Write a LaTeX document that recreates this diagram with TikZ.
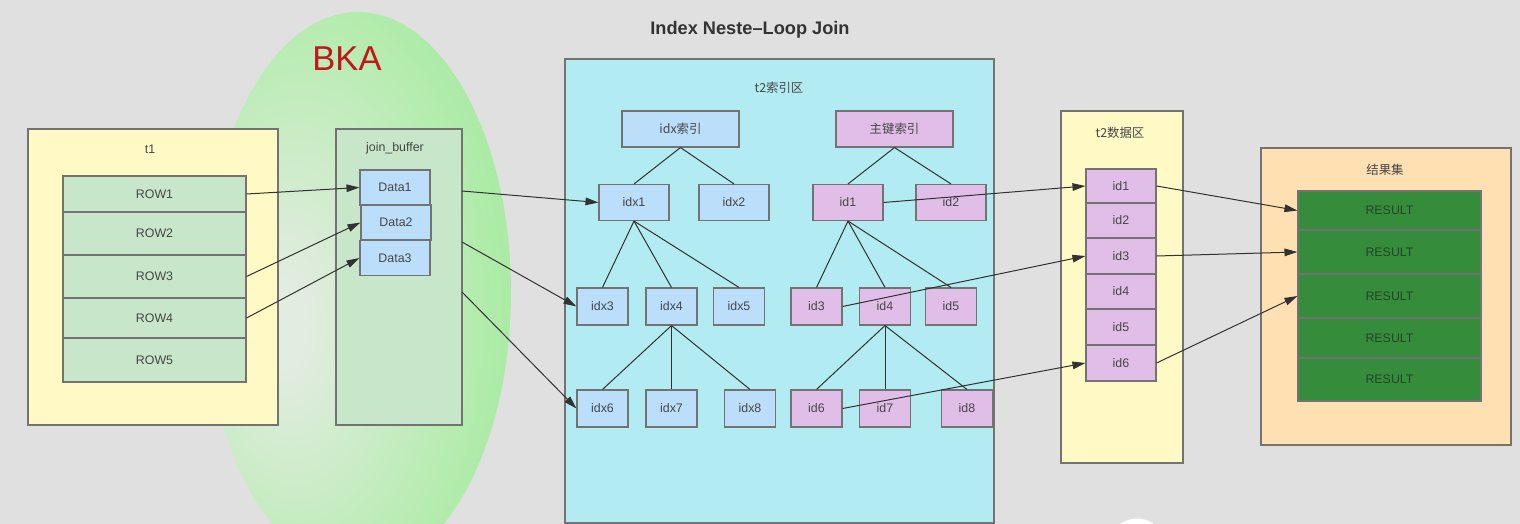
\documentclass[tikz,border=0pt]{standalone}
\usepackage{fontspec}
\setmainfont{Liberation Sans}
\newfontfamily\cjk{Noto Sans CJK SC}
\usetikzlibrary{arrows.meta}
\definecolor{bgc}{RGB}{224,224,224}
\definecolor{yel}{RGB}{255,249,198}
\definecolor{grn}{RGB}{200,230,201}
\definecolor{blu}{RGB}{187,222,251}
\definecolor{cya}{RGB}{178,235,242}
\definecolor{pur}{RGB}{225,190,231}
\definecolor{pea}{RGB}{255,224,178}
\definecolor{dgr}{RGB}{53,140,58}
\definecolor{bordc}{RGB}{115,115,115}
\definecolor{linec}{RGB}{50,50,50}
\definecolor{txt}{RGB}{70,70,70}
\definecolor{restxt}{RGB}{35,70,38}
\definecolor{bkared}{RGB}{192,22,28}
\definecolor{bkain}{RGB}{226,236,224}
\definecolor{bkamid}{RGB}{182,236,176}
\definecolor{bkaout}{RGB}{150,232,145}
\pgfdeclareradialshading{bkashade}{\pgfpoint{-13bp}{-3bp}}{color(0bp)=(bkain); color(4bp)=(bkain); color(26bp)=(bkamid); color(42bp)=(bkaout); color(70bp)=(bkaout)}
\tikzset{
  lbl/.style={font=\fontsize{6.2pt}{7pt}\selectfont, text=txt},
  cjklbl/.style={font=\cjk\fontsize{6.2pt}{7pt}\selectfont, text=txt},
  cell/.style={draw=bordc, line width=0.55pt, inner sep=0pt, lbl},
  area/.style={draw=bordc, line width=0.55pt, inner sep=0pt},
  conn/.style={draw=linec, line width=0.5pt},
  arr/.style={conn, -{Triangle[length=6.5pt,width=3.8pt]}},
  lev1/.style={cell, minimum width=35pt, minimum height=18pt},
  lev2/.style={cell, minimum width=25.5pt, minimum height=18.5pt},
  rowc/.style={cell, fill=grn, minimum width=91.5pt},
  resc/.style={cell, fill=dgr, text=restxt, minimum width=91.5pt},
  dcell/.style={cell, fill=pur, minimum width=35pt},
}
\begin{document}
\begin{tikzpicture}[x=0.5pt, y=-0.5pt]
\useasboundingbox (0,0) rectangle (1520,524);
\fill[bgc] (0,0) rectangle (1520,524);
\begin{scope}
\clip (0,0) rectangle (1520,524);
\path[shading=bkashade] (358,292) ellipse [x radius=76.5pt, y radius=140pt];
\fill[white] (1137,547) circle [radius=14.25pt];
\end{scope}

% title and BKA
\node[font=\bfseries\fontsize{9.1pt}{10pt}\selectfont, text=black!80] (title) at (750,30) {Index Neste--Loop Join};
\node[font=\fontsize{17.25pt}{18pt}\selectfont, text=bkared] (bka) at (347,59) {BKA};

% t1
\node[area, fill=yel, minimum width=125pt, minimum height=148pt] (t1) at (153,277) {};
\node[lbl] (t1l) at (150,149) {t1};
\node[rowc, minimum height=18pt] (r1) at (154.5,194) {ROW1};
\node[rowc, minimum height=21.5pt] (r2) at (154.5,233.5) {ROW2};
\node[rowc, minimum height=21.5pt] (r3) at (154.5,276.5) {ROW3};
\node[rowc, minimum height=20pt] (r4) at (154.5,318) {ROW4};
\node[rowc, minimum height=22pt] (r5) at (154.5,360) {ROW5};

% join buffer
\node[area, fill=grn, minimum width=63pt, minimum height=148pt] (jb) at (399,277) {};
\node[lbl] (jbl) at (395,148) {join\_buffer};
\node[cell, fill=blu, minimum width=35pt, minimum height=17.5pt] (d1) at (395,187.5) {Data1};
\node[cell, fill=blu, minimum width=35pt, minimum height=17.5pt] (d2) at (396,222.5) {Data2};
\node[cell, fill=blu, minimum width=35pt, minimum height=17.5pt] (d3) at (395,258) {Data3};

% index area
\node[area, fill=cya, minimum width=214.5pt, minimum height=232pt] (ia) at (779.5,291) {};
\node[cjklbl] (ial) at (779,88) {t2索引区};
\node[lev1, fill=blu, minimum width=58.5pt, font=\cjk\fontsize{6.2pt}{7pt}\selectfont] (idxr) at (680.5,129) {idx索引};
\node[lev1, fill=pur, minimum width=58.5pt, font=\cjk\fontsize{6.2pt}{7pt}\selectfont] (pkr) at (894.5,129) {主键索引};
\node[lev1, fill=blu] (idx1) at (634,202.5) {idx1};
\node[lev1, fill=blu] (idx2) at (734,202.5) {idx2};
\node[lev1, fill=pur] (id1) at (848,202.5) {id1};
\node[lev1, fill=pur] (id2) at (951,202.5) {id2};
\node[lev2, fill=blu] (idx3) at (602.5,306.5) {idx3};
\node[lev2, fill=blu] (idx4) at (671.5,306.5) {idx4};
\node[lev2, fill=blu] (idx5) at (739,306.5) {idx5};
\node[lev2, fill=pur] (id3) at (816.5,306.5) {id3};
\node[lev2, fill=pur] (id4) at (885,306.5) {id4};
\node[lev2, fill=pur] (id5) at (951,306.5) {id5};
\node[lev2, fill=blu] (idx6) at (602.5,408.5) {idx6};
\node[lev2, fill=blu] (idx7) at (671.5,408.5) {idx7};
\node[lev2, fill=blu] (idx8) at (750,408.5) {idx8};
\node[lev2, fill=pur] (id6) at (816.5,408.5) {id6};
\node[lev2, fill=pur] (id7) at (885,408.5) {id7};
\node[lev2, fill=pur] (id8) at (967,408.5) {id8};

% tree edges
\draw[conn] (idxr.south) -- (idx1.north);
\draw[conn] (idxr.south) -- (idx2.north);
\draw[conn] (pkr.south) -- (id1.north);
\draw[conn] (pkr.south) -- (id2.north);
\foreach \c in {idx3,idx4,idx5} \draw[conn] (idx1.south) -- (\c.north);
\foreach \c in {idx6,idx7,idx8} \draw[conn] (idx4.south) -- (\c.north);
\foreach \c in {id3,id4,id5} \draw[conn] (id1.south) -- (\c.north);
\foreach \c in {id6,id7,id8} \draw[conn] (id4.south) -- (\c.north);

% t2 data area
\node[area, fill=yel, minimum width=61pt, minimum height=176pt] (da) at (1122,287) {};
\node[cjklbl] (dal) at (1120,133) {t2数据区};
\node[dcell, minimum height=17pt] (e1) at (1121,186) {id1};
\node[dcell, minimum height=17.5pt] (e2) at (1121,220.5) {id2};
\node[dcell, minimum height=18pt] (e3) at (1121,256) {id3};
\node[dcell, minimum height=17.5pt] (e4) at (1121,291.5) {id4};
\node[dcell, minimum height=18pt] (e5) at (1121,327) {id5};
\node[dcell, minimum height=18pt] (e6) at (1121,363) {id6};

% result area
\node[area, fill=pea, minimum width=125pt, minimum height=148.5pt] (ra) at (1386,296.5) {};
\node[cjklbl] (ral) at (1385,170) {结果集};
\node[resc, minimum height=19.5pt] (s1) at (1389.5,210.5) {RESULT};
\node[resc, minimum height=22pt] (s2) at (1389.5,252) {RESULT};
\node[resc, minimum height=22pt] (s3) at (1389.5,296) {RESULT};
\node[resc, minimum height=20pt] (s4) at (1389.5,338) {RESULT};
\node[resc, minimum height=21.5pt] (s5) at (1389.5,379.5) {RESULT};

% connectors
\coordinate (jo1) at (462,191);
\coordinate (jo2) at (462,242);
\coordinate (jo3) at (462,292);
\draw[arr] (r1.east) -- (d1.west);
\draw[arr] (r3.east) -- (d2.west);
\draw[arr] (r4.east) -- (d3.west);
\draw[arr] (jo1) -- (idx1.west);
\draw[arr] (jo2) -- (idx3.west);
\draw[arr] (jo3) -- (idx6.west);
\draw[arr] (id1.east) -- (e1.west);
\draw[arr] (id3.east) -- (e3.west);
\draw[arr] (id6.east) -- (e6.west);
\draw[arr] (e1.east) -- (s1.west);
\draw[arr] (e3.east) -- (s2.west);
\draw[arr] (e6.east) -- (s3.west);
\end{tikzpicture}
\end{document}
